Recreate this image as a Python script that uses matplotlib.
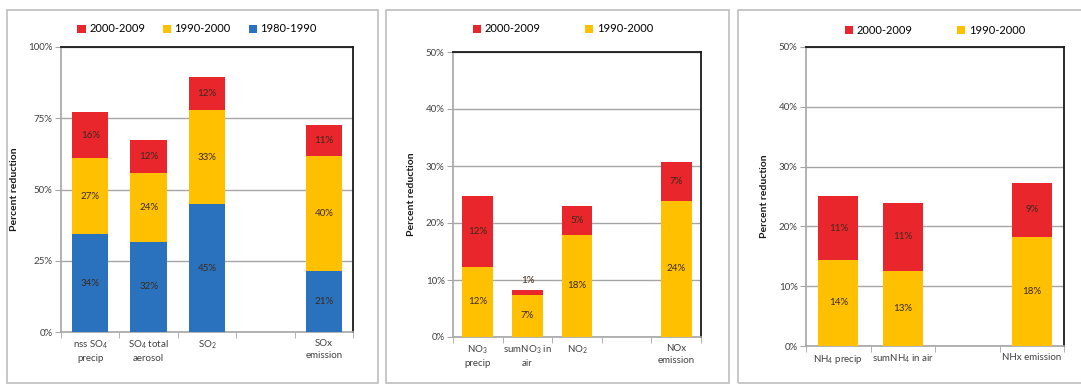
import numpy as np
import matplotlib
matplotlib.use("Agg")
import matplotlib.pyplot as plt
from matplotlib.patches import Rectangle, Patch

plt.rcParams['font.family'] = ['Lato', 'DejaVu Sans']
plt.rcParams['mathtext.fontset'] = 'custom'
plt.rcParams['mathtext.rm'] = 'Lato'
plt.rcParams['mathtext.it'] = 'Lato:italic'
plt.rcParams['mathtext.bf'] = 'Lato:bold'

#=== data ===#
# sulphur panel (4th slot is an empty gap)
s_cats = ["nss SO$_4$\nprecip", "SO$_4$ total\naerosol", "SO$_2$", "", "SOx\nemission"]
s_80s = [34.3, 31.6, 44.8, np.nan, 21.3]
s_90s = [26.8, 24.2, 33.0, np.nan, 40.3]
s_00s = [16.0, 11.7, 11.8, np.nan, 10.9]

# oxidised nitrogen panel
n_cats = ["NO$_3$\nprecip", "sumNO$_3$ in\nair", "NO$_2$", "", "NOx\nemission"]
n_90s = [12.3, 7.4, 17.9, np.nan, 23.9]
n_00s = [12.4, 0.8, 5.1, np.nan, 6.8]

# reduced nitrogen panel
a_cats = ["NH$_4$ precip", "sumNH$_4$ in air", "", "NHx emission"]
a_90s = [14.4, 12.6, np.nan, 18.2]
a_00s = [10.6, 11.3, np.nan, 9.1]

red = '#E8262B'
yellow = '#FFC000'
blue = '#2A72BE'
grid_c = '#A6A6A6'
txt_c = '#3B2A1E'

W, H = 1081, 386
fig = plt.figure(figsize=(W / 100, H / 100), dpi=100)

# panel frames
for x0, x1 in [(7, 378), (386, 729), (738, 1090)]:
    fig.patches.append(Rectangle((x0 / W, 3 / H), (x1 - x0) / W, 373 / H,
                                 transform=fig.transFigure, fill=False,
                                 edgecolor='#BDBDBD', linewidth=1.2))


def pct(v):
    return "{:.0f}%".format(v)


def make_panel(rect, cats, series, colors, names, ymax, ystep, legend_y, legend_x, colspace):
    ax = fig.add_axes(rect)
    n = len(cats)
    x = np.arange(n)
    bottom = np.zeros(n)
    for vals, col in zip(series, colors):
        vals = np.array(vals, dtype=float)
        v = np.nan_to_num(vals)
        ax.bar(x, v, 0.62, bottom=bottom, color=col, zorder=3)
        for i in range(n):
            if np.isnan(vals[i]):
                continue
            if v[i] < 2:
                # too thin: label sits above the bar
                ax.text(x[i], bottom[i] + v[i] + ymax * 0.035, pct(v[i]), ha='center', va='center',
                        fontsize=7, color=txt_c, zorder=4)
            else:
                ax.text(x[i], bottom[i] + v[i] / 2, pct(v[i]), ha='center', va='center',
                        fontsize=7, color=txt_c, zorder=4)
        bottom += v

    ax.set_xlim(-0.5, n - 0.5)
    ax.set_ylim(0, ymax)
    ticks = np.arange(0, ymax + 0.1, ystep)
    ax.set_yticks(ticks)
    ax.set_yticklabels([pct(t) for t in ticks], fontsize=7, color='#404040')
    ax.yaxis.grid(True, color=grid_c, linewidth=1.0, zorder=0)
    ax.set_xticks(x)
    ax.set_xticklabels(cats, fontsize=7, color='#404040', linespacing=1.4)
    ax.tick_params(axis='x', length=0, pad=5)
    ax.set_xticks(np.arange(-0.5, n, 1.0), minor=True)
    ax.tick_params(axis='x', which='minor', length=4, color=grid_c, direction='out')
    ax.tick_params(axis='y', length=4, color=grid_c, direction='out', pad=2)
    for s in ['left', 'bottom']:
        ax.spines[s].set_color(grid_c)
        ax.spines[s].set_linewidth(1.2)
    for s in ['top', 'right']:
        ax.spines[s].set_color('#1A1A1A')
        ax.spines[s].set_linewidth(1.3)
    ax.set_ylabel("Percent reduction", fontsize=7.5, fontweight='bold', color='#1A1A1A', labelpad=7)

    handles = [Patch(facecolor=c, edgecolor='none') for c in colors[::-1]]
    fig.legend(handles, names[::-1], loc='center', bbox_to_anchor=(legend_x, legend_y),
               ncol=len(names), frameon=False, fontsize=8, handlelength=0.75, handleheight=0.75,
               handletextpad=0.3, columnspacing=colspace)
    return ax


ax1 = make_panel([61 / W, 1 - 332 / H, 292 / W, 285 / H], s_cats,
                 [s_80s, s_90s, s_00s], [blue, yellow, red],
                 ["1980-1990", "1990-2000", "2000-2009"], 100, 25,
                 1 - 29 / H, 197 / W, 1.6)
ax2 = make_panel([453 / W, 1 - 337 / H, 248 / W, 285 / H], n_cats,
                 [n_90s, n_00s], [yellow, red],
                 ["1990-2000", "2000-2009"], 50, 10,
                 1 - 29 / H, 563 / W, 4.0)
ax3 = make_panel([806 / W, 1 - 346 / H, 258 / W, 299 / H], a_cats,
                 [a_90s, a_00s], [yellow, red],
                 ["1990-2000", "2000-2009"], 50, 10,
                 1 - 30 / H, 935 / W, 4.0)

fig.savefig("out.png", dpi=100)
